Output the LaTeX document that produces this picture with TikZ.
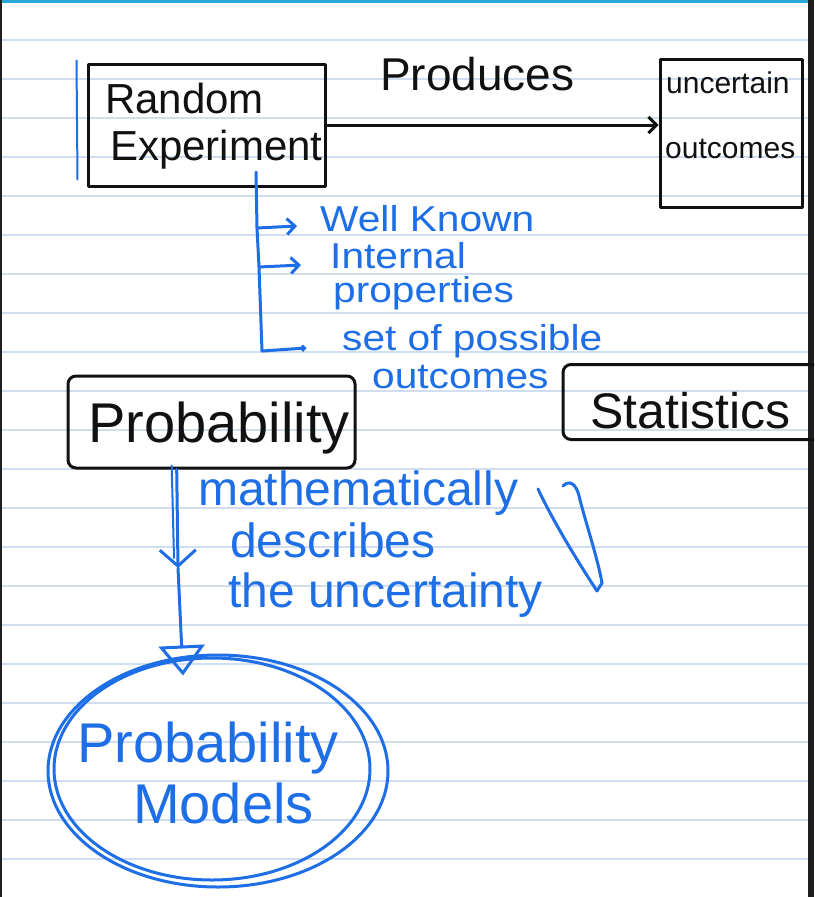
\documentclass[tikz,border=0pt]{standalone}
\usepackage{fontspec}
\setmainfont{Liberation Sans}
\newfontfamily\widefont[FakeStretch=1.13]{Liberation Sans}
\usetikzlibrary{arrows.meta,calc,shapes.geometric}
\definecolor{pen}{RGB}{30,110,230}
\definecolor{ink}{RGB}{17,17,17}
\definecolor{ruleline}{RGB}{208,222,240}
\definecolor{topbar}{RGB}{38,168,216}
\definecolor{edgedark}{RGB}{30,30,30}
\newcommand\hsz[1]{\fontsize{#1}{#1}\selectfont}
\begin{document}
\begin{tikzpicture}[x=1pt,y=-1pt,
  inkline/.style={draw=ink, line width=3pt, line cap=round, line join=round},
  penline/.style={draw=pen, line width=3pt, line cap=round, line join=round},
  boxnode/.style={inkline, rectangle, inner sep=0pt},
  inktxt/.style={anchor=base west, inner sep=0pt, text=ink, font=\hsz{#1}},
  pentxt/.style={anchor=base west, inner sep=0pt, text=pen, font=\hsz{#1}},
  listtxt/.style={anchor=base west, inner sep=0pt, text=pen, font=\widefont\hsz{36}},
  barb/.style={-{Straight Barb[length=8pt,width=16pt]}}
]
\useasboundingbox (0,0) rectangle (814,897);
\clip (0,0) rectangle (814,897);
% paper
\fill[white] (0,0) rectangle (814,897);
\foreach \k in {0,...,21} \draw[ruleline, line width=1.5pt] (0,{40+39*\k}) -- (814,{40+39*\k});
\fill[topbar] (0,0) rectangle (814,3);
\fill[edgedark] (0,0) rectangle (2,897);
\fill[edgedark] (808,0) rectangle (814,897);

% black boxes
\node[boxnode, minimum width=237pt, minimum height=122pt] (re) at (206.5,125) {};
\node[boxnode, minimum width=142pt, minimum height=148pt] (uo) at (731,133) {};
\node[boxnode, minimum width=287pt, minimum height=92pt, rounded corners=8pt] (pb) at (211.5,422) {};
\node[boxnode, minimum width=270pt, minimum height=75pt, rounded corners=8pt] (st) at (698,402) {};

% blue mark left of Random Experiment
\draw[penline, line width=2pt] ($(re.north west)+(-10,-2)$) -- ($(re.south west)+(-9,-8)$);

% black texts
\node[inktxt=42] (tRandom) at (105,113) {Random};
\node[inktxt=42] (tExp) at (110,160) {Experiment};
\node[inktxt=46] (tProd) at (380,90) {Produces};
\node[inktxt=30] (tUnc) at (666,93) {uncertain};
\node[inktxt=30] (tOut) at (665,158) {outcomes};
\node[inktxt=56] (tProb) at (88,442) {Probability};
\node[inktxt=50] (tStat) at (590,428) {Statistics};

% Produces arrow
\draw[inkline, barb] (re.east) -- (re.east -| uo.west);

% blue bracket with branches
\coordinate (bt) at (256,172);
\coordinate (b1) at (257,228);
\coordinate (b2) at (259,267);
\coordinate (bb) at (262,351);
\coordinate (w1) at (297,226);
\coordinate (w2) at (301,265);
\coordinate (w3) at (306,348);
\draw[penline] (bt) -- (b1) -- (b2) -- (bb);
\draw[penline, barb] (b1) -- (w1);
\draw[penline, barb] (b2) -- (w2);
\draw[penline, -{Circle[open,length=6pt]}] (bb) -- (w3);

% blue list texts
\node[listtxt] (tWell) at (320,231) {Well Known};
\node[listtxt] (tInt) at (330,268) {Internal};
\node[listtxt] (tProp) at (333,302) {properties};
\node[listtxt] (tSet) at (342,350) {set of possible};
\node[listtxt] (tOutc) at (372,388) {outcomes};

% probability models ellipse
\node[draw=pen, line width=3pt, ellipse, minimum width=340pt, minimum height=232pt, inner sep=0pt] (pm) at (218,771) {};
\draw[penline] (212,769) ellipse [x radius=158pt, y radius=111pt];
\node[pentxt=56] (tPM1) at (77,762) {Probability};
\node[pentxt=56] (tPM2) at (133,823) {Models};

% arrow from Probability to Probability Models
\coordinate (pa) at ($(pb.south west)!0.38!(pb.south east)$);
\coordinate (pv) at (178,568);
\coordinate (ptip) at ($(pm.north)+(-35,22)$);
\draw[penline, line width=2pt] ($(pa)+(-5,-4)$) -- ($(pv)+(-4,-10)$);
\draw[penline, -{Straight Barb[length=16pt,width=36pt]}] (pa) -- (pv);
\draw[penline, -{Triangle[open,length=30pt,width=46pt]}] (pv) -- (ptip);

% blue middle texts
\node[pentxt=48] (tMath) at (198,505) {mathematically};
\node[pentxt=48] (tDesc) at (230,557) {describes};
\node[pentxt=48] (tUnct) at (228,607) {the uncertainty};

% double slash
\draw[penline] (538,489) .. controls (555,525) and (580,565) .. (597,591);
\draw[penline] (563,486) .. controls (568,481) and (576,480) .. (580,500)
  .. controls (588,530) and (598,560) .. (602,583) -- (597,591);
\end{tikzpicture}
\end{document}
